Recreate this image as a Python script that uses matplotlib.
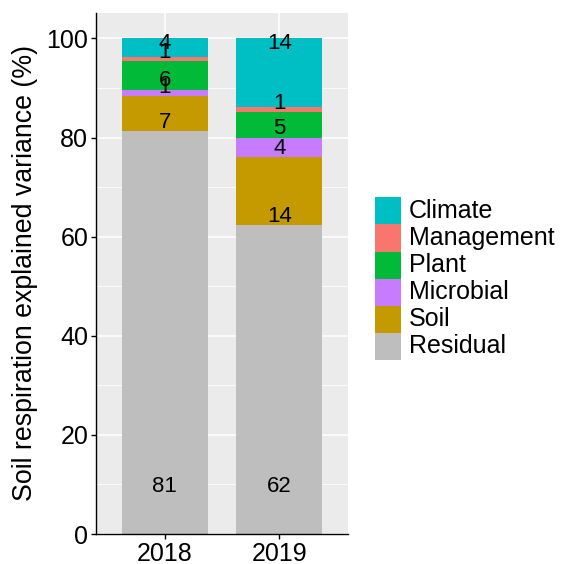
import matplotlib
matplotlib.use("Agg")
import matplotlib.pyplot as plt
from matplotlib.patches import Rectangle
import numpy as np

plt.rcParams['font.family'] = ['Liberation Sans', 'DejaVu Sans']

years = ["2018", "2019"]
categories = ["Residual", "Soil", "Microbial", "Plant", "Management", "Climate"]
residual = [81.3, 62.3]
soil = [7.0, 13.7]
microbial = [1.4, 4.0]
plant = [5.7, 5.1]
management = [0.8, 1.1]
climate = [3.8, 13.8]
series = [residual, soil, microbial, plant, management, climate]
colors = ["#BEBEBE", "#C49A00", "#C77CFF", "#00BA38", "#F8766D", "#00BFC4"]

W, H = 562, 564
fig = plt.figure(figsize=(W / 100, H / 100), dpi=100)
fig.patch.set_facecolor("white")
L, R, T, B = 96, 348, 12.7, 534
ax = fig.add_axes([L / W, (H - B) / H, (R - L) / W, (B - T) / H])
ax.set_facecolor("#EBEBEB")

x = np.arange(1, len(years) + 1)
ax.set_xlim(0.4, len(years) + 0.6)
ax.set_ylim(0, 105.2)

for y in np.arange(10, 101, 20):
    ax.axhline(y, color="white", lw=0.55, zorder=0)
for y in np.arange(0, 101, 20):
    ax.axhline(y, color="white", lw=1.1, zorder=0)
for xi in x:
    ax.axvline(xi, color="white", lw=1.1, zorder=0)

bottom = np.zeros(len(years))
for name, vals, col in zip(categories, series, colors):
    vals = np.array(vals)
    ax.bar(x, vals, width=0.75, bottom=bottom, color=col, edgecolor="none", zorder=2)
    for xi, b, v in zip(x, bottom, vals):
        if name == "Residual":
            ty = 9.5
        elif name == "Climate":
            ty = b + v - 1.1
        else:
            ty = b + 1.8
        ax.text(xi, ty, f"{int(round(v))}", ha="center", va="center",
                fontsize=16, color="black", zorder=3)
    bottom = bottom + vals

ax.set_xticks(x)
ax.set_xticklabels(years)
ax.set_yticks(np.arange(0, 101, 20))
ax.tick_params(axis="both", labelsize=18, colors="black", length=3.5, width=1.0)
ax.tick_params(axis="x", pad=2.2)
ax.tick_params(axis="y", pad=2.0)
for s in ["top", "right"]:
    ax.spines[s].set_visible(False)
for s in ["left", "bottom"]:
    ax.spines[s].set_color("black")
    ax.spines[s].set_linewidth(1.0)
ax.set_ylabel("Soil respiration explained variance (%)", fontsize=19.3, color="black", labelpad=6)

# legend (ggplot-style stacked keys)
key_x, key_top, key_w, key_h, text_x = 375, 197.3, 26, 27.1, 409
for i, (name, col) in enumerate(zip(categories[::-1], colors[::-1])):
    top = key_top + i * key_h
    fig.add_artist(Rectangle((key_x / W, 1 - (top + key_h) / H), key_w / W, key_h / H,
                             transform=fig.transFigure, facecolor=col, edgecolor="none"))
    fig.text(text_x / W, 1 - (top + key_h / 2) / H, name, ha="left", va="center",
             fontsize=18, color="black")

fig.savefig("out.png", dpi=100)
